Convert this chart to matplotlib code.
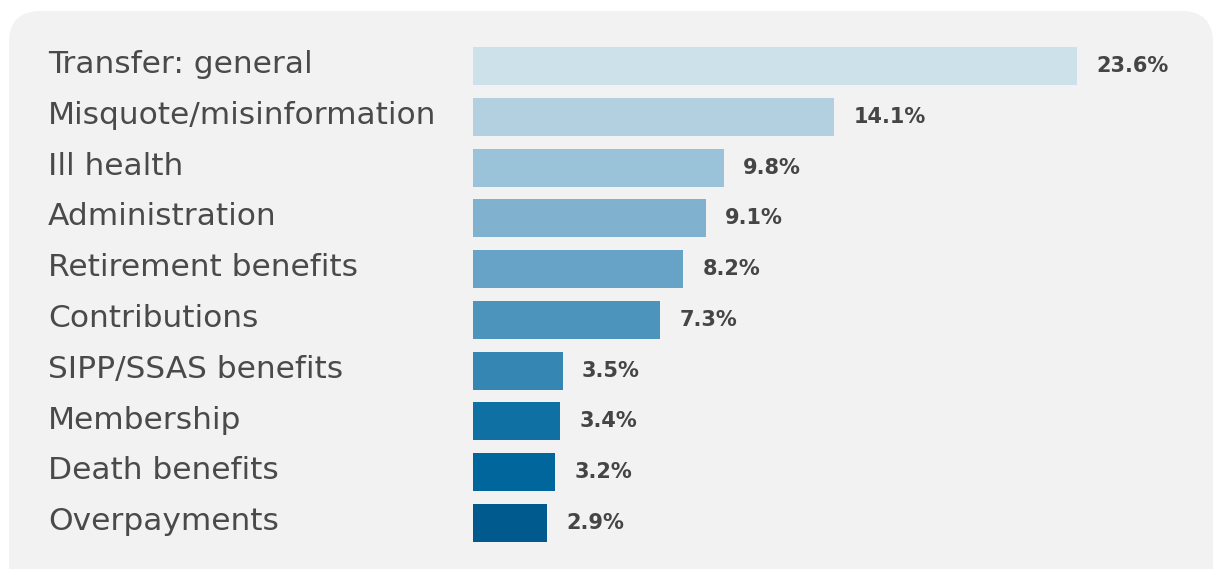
import matplotlib.pyplot as plt
from matplotlib.patches import FancyBboxPatch

categories = ['Transfer: general', 'Misquote/misinformation', 'Ill health', 'Administration',
              'Retirement benefits', 'Contributions', 'SIPP/SSAS benefits', 'Membership',
              'Death benefits', 'Overpayments']
values = [23.6, 14.1, 9.8, 9.1, 8.2, 7.3, 3.5, 3.4, 3.2, 2.9]
colors = ['#cde1ea', '#b3d0e1', '#9ac2d8', '#80b2cf', '#66a3c6',
          '#4d94bd', '#3586b3', '#0f70a3', '#00669c', '#005a8d']

W, H = 1214, 569
fig = plt.figure(figsize=(W / 100, H / 100), dpi=100)
fig.patch.set_facecolor('white')

# rounded grey panel behind everything
panel = FancyBboxPatch((9 / W, -0.1), (1213 - 9) / W, (H - 11) / H + 0.1,
                       boxstyle='round,pad=0,rounding_size=0.026',
                       transform=fig.transFigure, facecolor='#f2f2f2',
                       edgecolor='none', mutation_aspect=W / H, zorder=-5)
fig.patches.append(panel)

left = 473 / W
right = (473 + 604 * 25 / 23.6) / W
ax = fig.add_axes([left, 1 - 548.4 / H, right - left, (548.4 - 40.6) / H])
ax.set_facecolor('none')

y = list(range(len(values)))
ax.barh(y, values, height=0.75, color=colors)
ax.set_xlim(0, 25)
ax.set_ylim(len(values) - 0.5, -0.5)
ax.axis('off')

for i, v in enumerate(values):
    ax.annotate(f'{v}%', (v, i), xytext=(14, 0), textcoords='offset points',
                ha='left', va='center', fontsize=15, fontweight='bold',
                color='#454545', family='DejaVu Sans')
    ax.annotate(categories[i], (0, i), xycoords=('figure fraction', 'data'),
                xytext=(48 * 0.72, 1),
                textcoords='offset points', ha='left', va='center',
                fontsize=22.5, color='#4a4a4a', family='DejaVu Sans')

fig.savefig('out.png', dpi=100)
